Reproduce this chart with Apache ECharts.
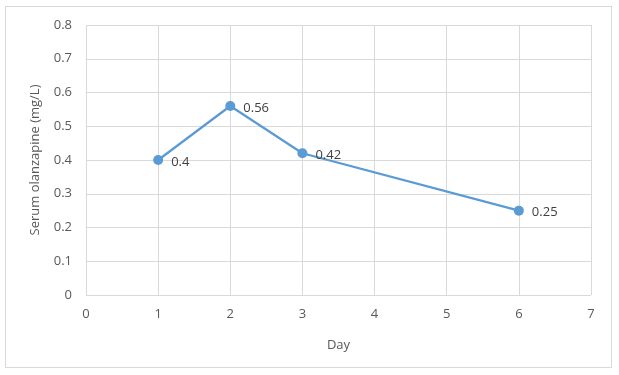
<!DOCTYPE html>
<html><head><meta charset="utf-8">
<script src="https://cdn.jsdelivr.net/npm/echarts@6/dist/echarts.min.js"></script>
<style>html,body{margin:0;padding:0;background:#fff}#c{width:619px;height:375px}
#frame{position:absolute;left:5px;top:6px;width:607px;height:362px;border:1px solid #d9d9d9;box-sizing:border-box;pointer-events:none}</style>
</head><body><div id="c"></div><div id="frame"></div>
<script>
const days = [1, 2, 3, 6];
const serum = [0.4, 0.56, 0.42, 0.25];
const xTicks = [0, 1, 2, 3, 4, 5, 6, 7];
const yTicks = [0, 0.1, 0.2, 0.3, 0.4, 0.5, 0.6, 0.7, 0.8];

const font = 'Open Sans';
const txt = '#595959';
const chart = echarts.init(document.getElementById('c'));
chart.setOption({
  animation: false,
  grid: {left: 86, right: 28, top: 25, bottom: 80, containLabel: false},
  xAxis: {
    type: 'value', min: xTicks[0], max: xTicks[xTicks.length-1], interval: 1,
    name: 'Day', nameLocation: 'middle', nameGap: 44,
    nameTextStyle: {color: txt, fontFamily: font, fontSize: 13},
    axisLine: {show: false}, axisTick: {show: false},
    axisLabel: {color: txt, fontFamily: font, fontSize: 13, margin: 13},
    splitLine: {show: true, lineStyle: {color: '#d9d9d9', width: 1}}
  },
  yAxis: {
    type: 'value', min: yTicks[0], max: yTicks[yTicks.length-1], interval: 0.1,
    name: 'Serum olanzapine (mg/L)', nameLocation: 'middle', nameGap: 44,
    nameTextStyle: {color: txt, fontFamily: font, fontSize: 13},
    axisLine: {show: false}, axisTick: {show: false},
    axisLabel: {color: txt, fontFamily: font, fontSize: 13, margin: 14,
      formatter: v => String(Math.round(v*10)/10)},
    splitLine: {show: true, lineStyle: {color: '#d9d9d9', width: 1}}
  },
  series: [{
    type: 'line',
    data: days.map((d, i) => [d, serum[i]]),
    symbol: 'circle', symbolSize: 10,
    lineStyle: {color: '#5b9bd5', width: 2.25},
    itemStyle: {color: '#5b9bd5'},
    label: {show: true, position: 'right', distance: 8, color: '#404040',
      fontFamily: font, fontSize: 13, offset: [0, 2],
      formatter: p => String(p.value[1])}
  }]
});
</script></body></html>
